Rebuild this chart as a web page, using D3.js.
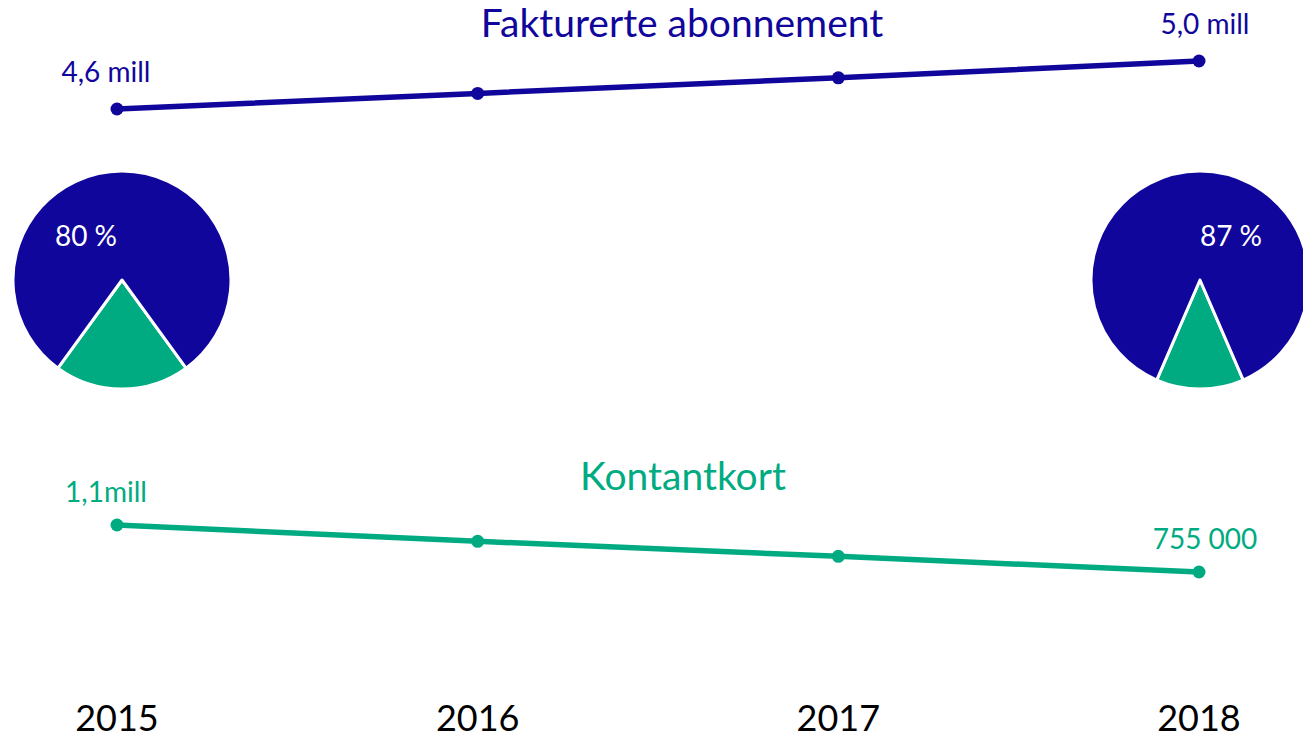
<!DOCTYPE html>
<html>
<head>
<meta charset="utf-8">
<script src="https://cdn.jsdelivr.net/npm/d3@7"></script>
<style>
  html, body { margin: 0; padding: 0; background: #fff; }
  svg { display: block; font-family: Lato, "Open Sans", sans-serif; }
</style>
</head>
<body>
<svg id="chart"></svg>
<script>
const years = ["2015", "2016", "2017", "2018"];
// million subscriptions
const fakturert = [4.6, 4.73, 4.86, 5.0];
const kontantkort = [1.1, 0.98, 0.87, 0.755];
const fakturertLabels = ["4,6 mill", null, null, "5,0 mill"];
const kontantLabels = ["1,1mill", null, null, "755 000"];
// share of billed subscriptions (%)
const pieYears = ["2015", "2018"];
const pieShares = [80, 87];

const blue = "#10069c";
const green = "#00ab82";

const width = 1303, height = 739;
const svg = d3.select("#chart").attr("width", width).attr("height", height);

const x = d3.scalePoint().domain(years).range([117, 1199]);
const yTop = d3.scaleLinear().domain([4.6, 5.0]).range([109, 61]);
const yBot = d3.scaleLinear().domain([0.755, 1.1]).range([572, 525]);

function drawSeries(values, y, color, labels, labelDy) {
  const g = svg.append("g");
  g.append("path")
    .datum(values)
    .attr("fill", "none")
    .attr("stroke", color)
    .attr("stroke-width", 5.5)
    .attr("d", d3.line().x((d, i) => x(years[i])).y(d => y(d)));
  g.selectAll("circle")
    .data(values)
    .join("circle")
    .attr("cx", (d, i) => x(years[i]))
    .attr("cy", d => y(d))
    .attr("r", 6.5)
    .attr("fill", color);
  g.selectAll("text")
    .data(values.map((v, i) => ({ v, i, label: labels[i] })).filter(d => d.label))
    .join("text")
    .attr("x", d => x(years[d.i]) + (d.i === 0 ? -11 : 6))
    .attr("y", d => y(d.v) + labelDy)
    .attr("text-anchor", "middle")
    .attr("fill", color)
    .style("font-size", "28px")
    .text(d => d.label);
}

drawSeries(fakturert, yTop, blue, fakturertLabels, -27);
drawSeries(kontantkort, yBot, green, kontantLabels, -23);

// titles
svg.append("text")
  .attr("x", 682).attr("y", 37)
  .attr("text-anchor", "middle")
  .attr("fill", blue)
  .style("font-size", "39px")
  .text("Fakturerte abonnement");

svg.append("text")
  .attr("x", 683).attr("y", 490)
  .attr("text-anchor", "middle")
  .attr("fill", green)
  .style("font-size", "39px")
  .text("Kontantkort");

// pies
const r = 109;
const arc = d3.arc().innerRadius(0).outerRadius(r);
pieYears.forEach((yr, k) => {
  const share = pieShares[k];
  const greenAngle = (100 - share) / 100 * 2 * Math.PI;
  const pie = d3.pie().sort(null).value(d => d)
    .startAngle(Math.PI - greenAngle / 2)
    .endAngle(Math.PI - greenAngle / 2 + 2 * Math.PI);
  const arcs = pie([100 - share, share]);
  const g = svg.append("g").attr("transform", `translate(${x(yr) + (k === 0 ? 5 : 1)},280)`);
  g.selectAll("path")
    .data(arcs)
    .join("path")
    .attr("d", arc)
    .attr("fill", (d, i) => i === 0 ? green : blue)
    .attr("stroke", "#fff")
    .attr("stroke-width", 3)
    .attr("stroke-linejoin", "round");
  g.append("text")
    .attr("x", k === 0 ? -36 : 31)
    .attr("y", -34)
    .attr("text-anchor", "middle")
    .attr("fill", "#fff")
    .style("font-size", "28px")
    .text(`${share} %`);
});

// year axis labels
svg.append("g")
  .selectAll("text")
  .data(years)
  .join("text")
  .attr("x", d => x(d))
  .attr("y", 731)
  .attr("text-anchor", "middle")
  .attr("fill", "#000")
  .style("font-size", "36px")
  .text(d => d);
</script>
</body>
</html>
